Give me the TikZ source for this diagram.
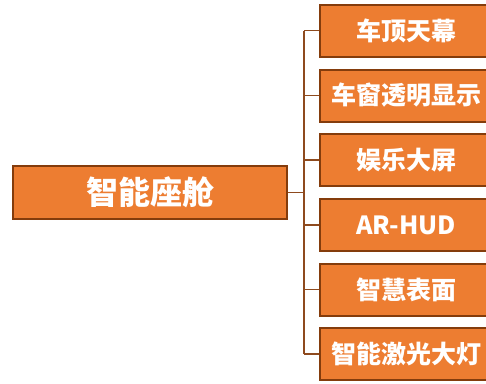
\documentclass[tikz,border=0pt]{standalone}
\usepackage{fontspec}
\newfontfamily\cjk{Noto Sans CJK SC}
\definecolor{boxfill}{HTML}{ED7D31}
\definecolor{boxline}{HTML}{843C0C}
\definecolor{conn}{HTML}{8E4A1E}
\begin{document}
\begin{tikzpicture}[x=1pt,y=-1pt,
  mainbox/.style={draw=boxline, fill=boxfill, line width=2pt, minimum width=274pt, minimum height=53pt, inner sep=0pt, text=white, font=\cjk\bfseries\fontsize{32}{36}\selectfont},
  childbox/.style={draw=boxline, fill=boxfill, line width=2pt, minimum width=172pt, minimum height=52pt, inner sep=0pt, text=white, font=\cjk\bfseries\fontsize{25}{30}\selectfont},
  link/.style={draw=conn, line width=1.6pt}]
\useasboundingbox (0,0) rectangle (486,383);
\fill[white] (0,0) rectangle (486,383);
\node[mainbox] (m) at (150,192.5) {智能座舱};
\node[childbox] (c1) at (406,30.5) {车顶天幕};
\node[childbox] (c2) at (406,95.5) {车窗透明显示};
\node[childbox] (c3) at (406,160) {娱乐大屏};
\node[childbox] (c4) at (406,225) {AR-HUD};
\node[childbox] (c5) at (406,289.5) {智慧表面};
\node[childbox] (c6) at (406,354) {智能激光大灯};
\coordinate (j) at (304,192.5);
\draw[link] (m.east) -- (j);
\draw[link] (c1.west -| j) -- (c6.west -| j);
\foreach \c in {c1,c2,c3,c4,c5,c6} {
  \draw[link] (\c.west) -- (\c.west -| j);
}
\end{tikzpicture}
\end{document}
